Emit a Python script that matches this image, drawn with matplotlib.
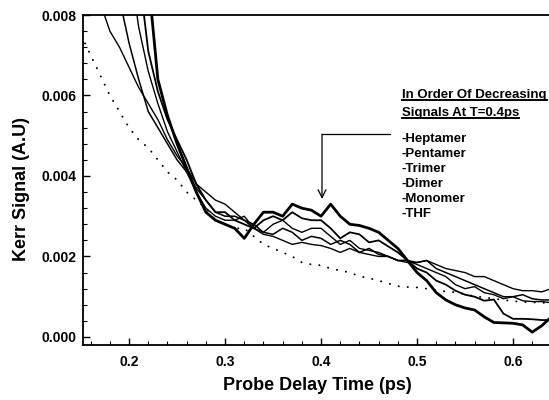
import matplotlib
matplotlib.use("Agg")
import matplotlib.pyplot as plt
from matplotlib.ticker import MultipleLocator, FormatStrFormatter
from matplotlib.lines import Line2D

plt.rcParams['font.family'] = ['Liberation Sans', 'DejaVu Sans']
plt.rcParams['font.weight'] = 'bold'

# probe delay (ps), 0.15 .. 0.64 in 0.01 steps
delay = [0.15, 0.16, 0.17, 0.18, 0.19, 0.20, 0.21, 0.22, 0.23, 0.24,
         0.25, 0.26, 0.27, 0.28, 0.29, 0.30, 0.31, 0.32, 0.33, 0.34,
         0.35, 0.36, 0.37, 0.38, 0.39, 0.40, 0.41, 0.42, 0.43, 0.44,
         0.45, 0.46, 0.47, 0.48, 0.49, 0.50, 0.51, 0.52, 0.53, 0.54,
         0.55, 0.56, 0.57, 0.58, 0.59, 0.60, 0.61, 0.62, 0.63, 0.64]

heptamer = [0.040, 0.034, 0.028, 0.023, 0.019, 0.0155, 0.0122, 0.0089, 0.0064, 0.0055,
            0.0048, 0.0042, 0.0036, 0.0031, 0.0029, 0.0028, 0.0027, 0.00245, 0.0028, 0.0031,
            0.0031, 0.0030, 0.0033, 0.0032, 0.00315, 0.0030, 0.0033, 0.0030, 0.0028, 0.00277,
            0.0027, 0.0026, 0.0024, 0.0022, 0.0019, 0.0016, 0.0014, 0.0011, 0.00092, 0.0008,
            0.00072, 0.00067, 0.0005, 0.00036, 0.00035, 0.00034, 0.0003, 0.00012, 0.00028, 0.0005]

pentamer = [0.030, 0.026, 0.022, 0.018, 0.015, 0.0122, 0.0091, 0.0071, 0.0061, 0.0054,
            0.0049, 0.0044, 0.0038, 0.0034, 0.0031, 0.0031, 0.0029, 0.0028, 0.0027, 0.0029,
            0.0030, 0.0029, 0.0031, 0.00295, 0.0029, 0.0029, 0.0027, 0.00245, 0.0026, 0.00255,
            0.00235, 0.0024, 0.00225, 0.0021, 0.0019, 0.0017, 0.0016, 0.0014, 0.0013, 0.00115,
            0.00105, 0.0010, 0.0009, 0.00093, 0.00058, 0.00045, 0.00045, 0.00044, 0.00042, 0.00042]

trimer = [0.022, 0.019, 0.016, 0.0135, 0.0113, 0.0094, 0.0077, 0.0066, 0.0058, 0.0051,
          0.0046, 0.0041, 0.0036, 0.0032, 0.0030, 0.0029, 0.0029, 0.0030, 0.0027, 0.0026,
          0.0028, 0.0029, 0.0027, 0.0026, 0.0027, 0.0027, 0.0025, 0.0023, 0.0024, 0.0022,
          0.00215, 0.0021, 0.0020, 0.0019, 0.0019, 0.0018, 0.0017, 0.0016, 0.0015, 0.0013,
          0.0012, 0.00125, 0.0011, 0.00105, 0.00095, 0.0010, 0.0009, 0.00088, 0.00088, 0.00085]

dimer = [0.0135, 0.0118, 0.0104, 0.0093, 0.0084, 0.0073, 0.0064, 0.0056, 0.0052, 0.0048,
         0.0044, 0.0041, 0.0037, 0.0034, 0.0031, 0.0030, 0.0030, 0.0029, 0.0028, 0.0026,
         0.00255, 0.0027, 0.0026, 0.0024, 0.0025, 0.00245, 0.0023, 0.0024, 0.0023, 0.0021,
         0.0022, 0.00205, 0.0020, 0.0019, 0.0019, 0.00185, 0.0019, 0.0017, 0.0016, 0.0015,
         0.0014, 0.0013, 0.0012, 0.0011, 0.0010, 0.0010, 0.00105, 0.00095, 0.00092, 0.00092]

monomer = [0.0098, 0.0090, 0.0083, 0.0076, 0.0072, 0.0067, 0.0062, 0.0058, 0.0054, 0.0049,
           0.0045, 0.0042, 0.0038, 0.0036, 0.0034, 0.0033, 0.0031, 0.0029, 0.0027, 0.00255,
           0.0025, 0.0024, 0.0023, 0.00235, 0.0023, 0.00227, 0.0022, 0.0021, 0.0022, 0.0021,
           0.00205, 0.0020, 0.0020, 0.0019, 0.00185, 0.00185, 0.0019, 0.0018, 0.0017, 0.00165,
           0.0016, 0.0015, 0.0015, 0.0014, 0.0013, 0.0012, 0.00115, 0.00115, 0.00112, 0.0012]

thf = [0.0075, 0.0070, 0.0065, 0.0060, 0.0056, 0.0052, 0.0049, 0.0047, 0.0044, 0.0041,
       0.0039, 0.0036, 0.0034, 0.0032, 0.0029, 0.0028, 0.0027, 0.0027, 0.0025, 0.0023,
       0.0022, 0.0021, 0.0020, 0.00185, 0.0018, 0.00178, 0.0017, 0.00165, 0.0016, 0.00151,
       0.00146, 0.0014, 0.00133, 0.00126, 0.00124, 0.00123, 0.0012, 0.00116, 0.00113, 0.00111,
       0.00106, 0.00101, 0.00098, 0.00095, 0.00092, 0.00089, 0.00087, 0.00086, 0.00085, 0.00084]

names = ["-Heptamer", "-Pentamer", "-Trimer", "-Dimer", "-Monomer", "-THF"]

fig = plt.figure(figsize=(5.49, 4.0), dpi=100)
ax = fig.add_axes([83/549, 55/400, 469/549, 330/400])

ax.plot(delay, monomer, color='k', lw=1.0)
ax.plot(delay, dimer, color='k', lw=1.1)
ax.plot(delay, trimer, color='k', lw=1.0)
ax.plot(delay, pentamer, color='k', lw=1.3)
ax.plot(delay, heptamer, color='k', lw=2.0)
ax.plot(delay, thf, color='k', lw=1.4, linestyle=(0, (0.1, 4.6)), dash_capstyle='round')

ax.set_xlim(0.152, 0.6406)
ax.set_ylim(-0.0002, 0.008)

ax.xaxis.set_major_locator(MultipleLocator(0.1))
ax.xaxis.set_minor_locator(MultipleLocator(0.02))
ax.yaxis.set_major_locator(MultipleLocator(0.002))
ax.yaxis.set_minor_locator(MultipleLocator(0.0004))
ax.xaxis.set_major_formatter(FormatStrFormatter('%.1f'))
ax.yaxis.set_major_formatter(FormatStrFormatter('%.3f'))
ax.tick_params(which='both', direction='in', top=False, right=False, labelsize=10)
ax.tick_params(which='major', length=5, width=1.0)
ax.tick_params(which='minor', length=3, width=0.8)
ax.tick_params(axis='x', pad=7)
ax.tick_params(axis='y', pad=5)
for lab in ax.get_xticklabels() + ax.get_yticklabels():
    lab.set_fontweight('bold')

ax.spines['right'].set_visible(False)
for s in ['left', 'bottom', 'top']:
    ax.spines[s].set_linewidth(1.3)

ax.set_xlabel("Probe Delay Time (ps)", fontsize=13, fontweight='bold')
ax.set_ylabel("Kerr Signal (A.U)", fontsize=13, fontweight='bold')
ax.xaxis.set_label_coords(0.499, -0.097)
ax.yaxis.set_label_coords(-0.113, 0.473)

# arrow pointing at T=0.4ps
ax.plot([0.401, 0.472], [0.00504, 0.00504], color='k', lw=0.9)
ax.annotate("", xy=(0.401, 0.00343), xytext=(0.401, 0.00504),
            arrowprops=dict(arrowstyle='->', color='k', lw=0.9, mutation_scale=14,
                            shrinkA=0, shrinkB=0))

# header text, underlined
heads = ["In Order Of Decreasing", "Signals At T=0.4ps"]
head_y = [95, 113]
htexts = []
for h, yp in zip(heads, head_y):
    htexts.append(fig.text(402/549, 1 - yp/400, h, fontsize=9.5, fontweight='bold',
                           va='center', ha='left'))
for i, nm in enumerate(names):
    fig.text(402/549, 1 - (139 + 15*i)/400, nm, fontsize=9.5, fontweight='bold',
             va='center', ha='left')

fig.canvas.draw()
r = fig.canvas.get_renderer()
for t in htexts:
    bb = t.get_window_extent(renderer=r)
    y = (bb.y0 + 1) / 400
    fig.add_artist(Line2D([bb.x0/549, bb.x1/549], [y, y], color='k', lw=1.4))

fig.savefig("out.png", dpi=100)
